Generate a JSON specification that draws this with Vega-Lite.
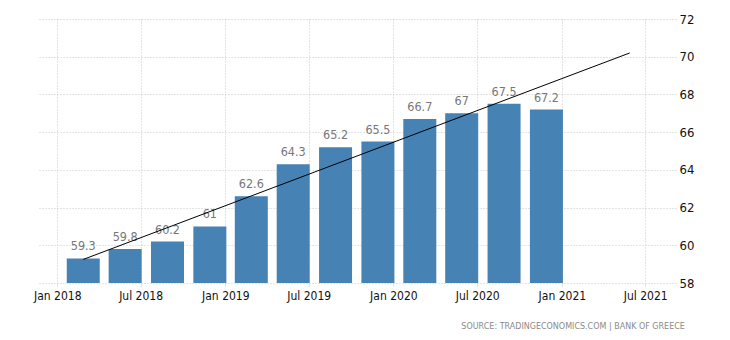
{
  "$schema": "https://vega.github.io/schema/vega-lite/v6.json",
  "width": 638,
  "height": 264,
  "autosize": {"type": "none"},
  "padding": {"left": 38, "top": 19, "right": 54, "bottom": 57},
  "background": "white",
  "title": {
    "text": "SOURCE: TRADINGECONOMICS.COM | BANK OF GREECE",
    "orient": "bottom",
    "anchor": "end",
    "fontSize": 8,
    "font": "DejaVu Sans",
    "fontWeight": "normal",
    "color": "#8a8a8a",
    "dx": -9,
    "offset": 22
  },
  "config": {
    "view": {"stroke": null},
    "axis": {
      "gridColor": "#c8c8c8",
      "gridDash": [1, 2],
      "gridWidth": 1,
      "domain": false,
      "title": null
    }
  },
  "datasets": {
    "bars": [
      {"date": "2018-03-31", "value": 59.3},
      {"date": "2018-06-30", "value": 59.8},
      {"date": "2018-09-30", "value": 60.2},
      {"date": "2018-12-31", "value": 61},
      {"date": "2019-03-31", "value": 62.6},
      {"date": "2019-06-30", "value": 64.3},
      {"date": "2019-09-30", "value": 65.2},
      {"date": "2019-12-31", "value": 65.5},
      {"date": "2020-03-31", "value": 66.7},
      {"date": "2020-06-30", "value": 67},
      {"date": "2020-09-30", "value": 67.5},
      {"date": "2020-12-31", "value": 67.2}
    ],
    "trend": [
      {"date": "2018-03-31", "value": 59.25},
      {"date": "2021-06-30", "value": 70.2}
    ]
  },
  "encoding": {
    "x": {
      "field": "date",
      "type": "temporal",
      "scale": {"domain": ["2017-12-01", "2021-08-26"]},
      "axis": {
        "values": [
          {"year": 2018, "month": 1, "date": 1},
          {"year": 2018, "month": 7, "date": 1},
          {"year": 2019, "month": 1, "date": 1},
          {"year": 2019, "month": 7, "date": 1},
          {"year": 2020, "month": 1, "date": 1},
          {"year": 2020, "month": 7, "date": 1},
          {"year": 2021, "month": 1, "date": 1},
          {"year": 2021, "month": 7, "date": 1}
        ],
        "format": "%b %Y",
        "labelFont": "DejaVu Sans Condensed",
        "labelFontSize": 12,
        "labelColor": "#111111",
        "labelFlush": false,
        "labelOverlap": false,
        "labelPadding": 3,
        "tickSize": 4,
        "tickColor": "#c8c8c8",
        "tickDash": [1, 1],
        "grid": true
      }
    },
    "y": {
      "field": "value",
      "type": "quantitative",
      "scale": {"domain": [58, 72], "zero": false, "nice": false},
      "axis": {
        "orient": "right",
        "values": [58, 60, 62, 64, 66, 68, 70, 72],
        "labelFont": "DejaVu Sans Condensed",
        "labelFontSize": 13,
        "labelColor": "#111111",
        "labelOverlap": false,
        "labelPadding": 3,
        "tickSize": 0,
        "grid": true
      }
    }
  },
  "layer": [
    {
      "data": {"name": "bars"},
      "mark": {"type": "bar", "color": "#4682b4", "size": 33, "xOffset": -15, "clip": true}
    },
    {
      "data": {"name": "bars"},
      "mark": {
        "type": "text",
        "xOffset": -15,
        "dy": -8,
        "baseline": "alphabetic",
        "font": "DejaVu Sans Condensed",
        "fontSize": 12.5,
        "color": "#777777"
      },
      "encoding": {
        "text": {"field": "value", "type": "quantitative"}
      }
    },
    {
      "data": {"name": "trend"},
      "mark": {"type": "line", "color": "#000000", "strokeWidth": 1, "xOffset": -15}
    }
  ]
}
